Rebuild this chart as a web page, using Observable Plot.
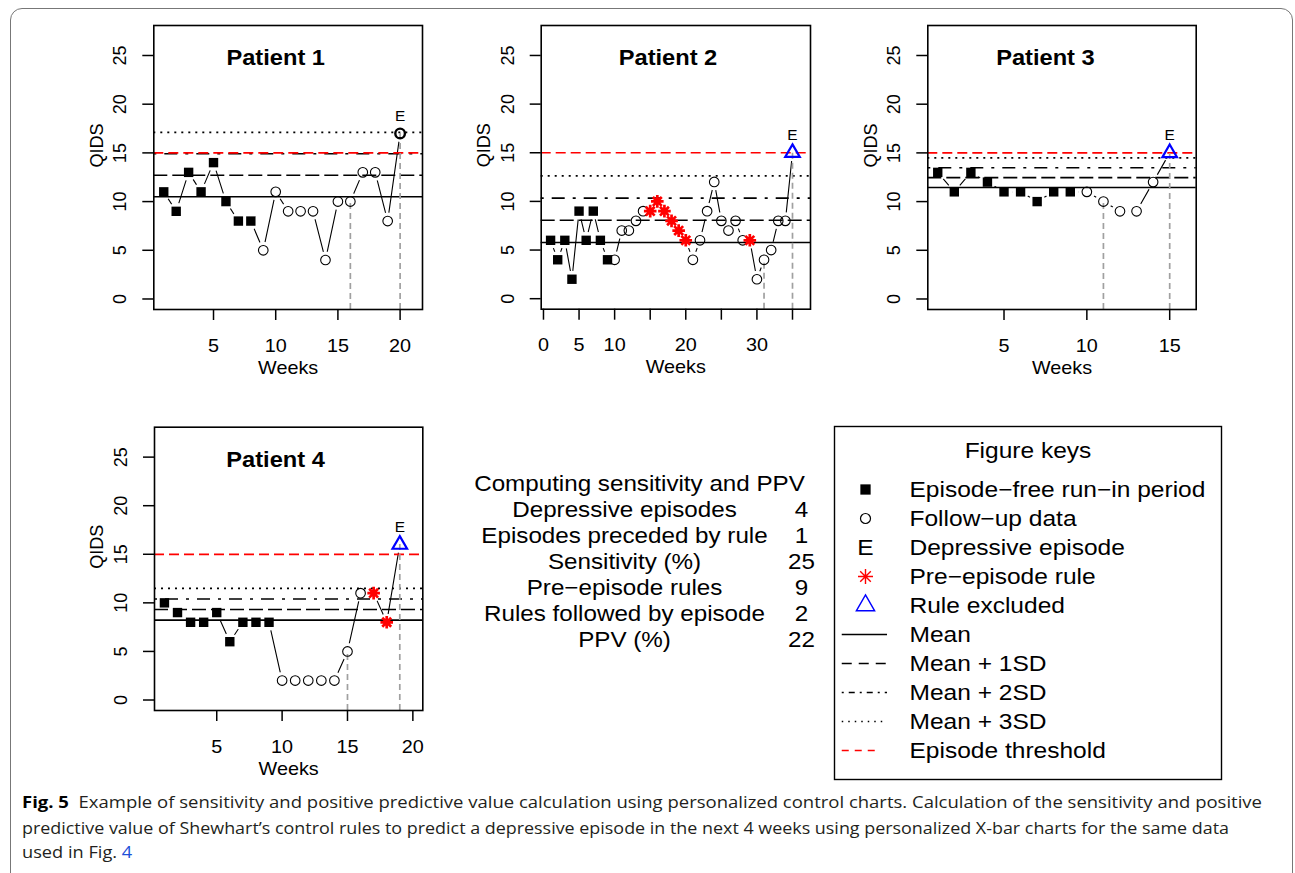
<!DOCTYPE html>
<html><head><meta charset="utf-8">
<script src="https://cdn.jsdelivr.net/npm/d3@7"></script>
<script src="https://cdn.jsdelivr.net/npm/@observablehq/plot@0.6"></script>
<style>
body{margin:0;background:#fff;}
#root{position:relative;width:1295px;height:873px;overflow:hidden;font-family:"Liberation Sans",Arial,sans-serif;background:#fff;}
#border{position:absolute;left:10px;top:8px;width:1283px;height:900px;border:1px solid #777;border-radius:12px;box-sizing:border-box;}
.pl{position:absolute;}
.cap{position:absolute;left:22px;white-space:nowrap;font-family:"Open Sans",sans-serif;font-size:15.5px;color:#231f20;transform-origin:0 50%;line-height:20px;}
.cap b{font-weight:700;color:#000;}
.cap .lnk{color:#1d4fd8;}
</style></head><body>
<div id="root"><div id="border"></div>
<div class="cap" id="cap1" style="top:792px"><b>Fig. 5</b>&nbsp; Example of sensitivity and positive predictive value calculation using personalized control charts. Calculation of the sensitivity and positive</div>
<div class="cap" id="cap2" style="top:818px">predictive value of Shewhart’s control rules to predict a depressive episode in the next 4 weeks using personalized X-bar charts for the same data</div>
<div class="cap" id="cap3" style="top:842px">used in Fig. <span class="lnk">4</span></div>
</div>
<script>
// ---------------- data ----------------
const weeksP1 = [1,2,3,4,5,6,7,8,9,10,11,12,13,14,15,16,17,18,19,20];
const qidsP1  = [11,9,13,11,14,10,8,8,5,11,9,9,9,4,10,10,13,13,8,17];
const weeksP2 = [1,2,3,4,5,6,7,8,9,10,11,12,13,14,15,16,17,18,19,20,21,22,23,24,25,26,27,28,29,30,31,32,33,34,35];
const qidsP2  = [6,4,6,2,9,6,9,6,4,4,7,7,8,9,9,10,9,8,7,6,4,6,9,12,8,7,8,6,6,2,4,5,8,8,15];
const weeksP3 = [1,2,3,4,5,6,7,8,9,10,11,12,13,14,15];
const qidsP3  = [13,11,13,12,11,11,10,11,11,11,10,9,9,12,15];
const weeksP4 = [1,2,3,4,5,6,7,8,9,10,11,12,13,14,15,16,17,18,19];
const qidsP4  = [10,9,8,8,9,6,8,8,8,2,2,2,2,2,5,11,11,8,16];

const patientTitles = ["Patient 1","Patient 2","Patient 3","Patient 4"];
const runInEnd      = [8, 9, 9, 9];
const ruleWeeks     = [[], [15,16,17,18,19,20,29], [], [17,18]];
const episodeWeek   = [20, 35, 15, 19];
const windowStart   = [16, 31, 11, 15];
const ruleExcluded  = [false, true, true, true];
const meanLine      = [10.5, 5.78, 11.44, 8.22];
const sd1Line       = [12.70, 8.06, 12.46, 9.31];
const sd2Line       = [14.91, 10.34, 13.47, 10.40];
const sd3Line       = [17.11, 12.62, 14.49, 11.49];
const episodeThreshold = 15;

const yTicks = [0,5,10,15,20,25];
const xTicksP = [[5,10,15,20],[0,5,10,15,20,25,30,35],[5,10,15],[5,10,15,20]];
const xLabelsP = [[5,10,15,20],[0,5,10,20,30],[5,10,15],[5,10,15,20]];

const summaryTitle = "Computing sensitivity and PPV";
const summaryLabels = ["Depressive episodes","Episodes preceded by rule","Sensitivity (%)","Pre\u2212episode rules","Rules followed by episode","PPV (%)"];
const summaryValues = [4, 1, 25, 9, 2, 22];

const legendTitle = "Figure keys";
const legendLabels = ["Episode\u2212free run\u2212in period","Follow\u2212up data","Depressive episode","Pre\u2212episode rule","Rule excluded","Mean","Mean + 1SD","Mean + 2SD","Mean + 3SD","Episode threshold"];

// ---------------- styling / layout ----------------
const SX = 1.1;
const FONT = "'Liberation Sans', Arial, Helvetica, sans-serif";
const yDomain = [-1.08, 28.08];
const dashSD1 = "14,5", dashSD2 = "3,8,13,8", dashSD3 = "2,5", dashThr = "10,5";

const asterisk8 = {
  draw(ctx, size) {
    const r = Math.sqrt(size / Math.PI), d = r * Math.SQRT1_2;
    ctx.moveTo(-r, 0); ctx.lineTo(r, 0);
    ctx.moveTo(0, -r); ctx.lineTo(0, r);
    ctx.moveTo(-d, -d); ctx.lineTo(d, d);
    ctx.moveTo(-d, d); ctx.lineTo(d, -d);
  }
};

function stretch(svg, s) {
  svg.querySelectorAll("text").forEach(t => {
    const tr = t.getAttribute("transform") || "";
    if (tr.includes("rotate")) return;
    let x = parseFloat(t.getAttribute("x"));
    if (!isFinite(x)) x = 0;
    t.setAttribute("transform", `${tr} translate(${x},0) scale(${s},1) translate(${-x},0)`);
  });
}

const root = document.getElementById("root");
function place(svg, left, top) {
  svg.classList.add("pl");
  svg.style.left = left + "px";
  svg.style.top = top + "px";
  stretch(svg, SX);
  root.appendChild(svg);
}

const layouts = [
  {left: 60,  top: 0,   width: 380, height: 390, box: [153.3, 422, 25, 309],    xDomain: [0.2, 21.8]},
  {left: 450, top: 0,   width: 380, height: 390, box: [540.7, 810, 25, 308.7],  xDomain: [-0.32, 37.53]},
  {left: 830, top: 0,   width: 390, height: 390, box: [927.3, 1195.7, 25, 309], xDomain: [0.4, 16.6]},
  {left: 60,  top: 400, width: 380, height: 390, box: [154, 422.3, 426.7, 710], xDomain: [0.24, 20.76]}
];
const weeksAll = [weeksP1, weeksP2, weeksP3, weeksP4];
const qidsAll = [qidsP1, qidsP2, qidsP3, qidsP4];

for (let p = 0; p < 4; p++) {
  const L = layouts[p];
  const data = weeksAll[p].map((w, i) => ({week: w, qids: qidsAll[p][i]}));
  const ep = episodeWeek[p];
  const runIn = data.filter(d => d.week <= runInEnd[p]);
  const rules = data.filter(d => ruleWeeks[p].includes(d.week));
  const epData = data.filter(d => d.week === ep);
  const follow = data.filter(d => d.week > runInEnd[p] && !ruleWeeks[p].includes(d.week) && d.week !== ep);
  const win = data.filter(d => d.week === windowStart[p] || d.week === ep);
  const xLab = xLabelsP[p];

  const svg = Plot.plot({
    width: L.width, height: L.height,
    marginLeft: L.box[0] - L.left,
    marginRight: L.left + L.width - L.box[1],
    marginTop: L.box[2] - L.top,
    marginBottom: L.top + L.height - L.box[3],
    x: {domain: L.xDomain, label: null},
    y: {domain: yDomain, label: null},
    style: {fontFamily: FONT, fontSize: "18px", color: "black", background: "transparent", overflow: "visible"},
    marks: [
      Plot.line(data, {x: "week", y: "qids", stroke: "black", strokeWidth: 1.1}),
      Plot.dot(data, {x: "week", y: "qids", r: 8.5, fill: "white", stroke: "none"}),
      Plot.ruleY([meanLine[p]], {stroke: "black", strokeWidth: 1.6}),
      Plot.ruleY([sd1Line[p]], {stroke: "black", strokeWidth: 1.6, strokeDasharray: dashSD1}),
      Plot.ruleY([sd2Line[p]], {stroke: "black", strokeWidth: 1.6, strokeDasharray: dashSD2}),
      Plot.ruleY([sd3Line[p]], {stroke: "black", strokeWidth: 1.6, strokeDasharray: dashSD3}),
      Plot.ruleY([episodeThreshold], {stroke: "#ff0000", strokeWidth: 1.7, strokeDasharray: dashThr}),
      Plot.ruleX(win, {x: "week", y1: () => yDomain[0], y2: "qids", stroke: "#a0a0a0", strokeWidth: 1.7, strokeDasharray: "6,4"}),
      Plot.dot(runIn, {x: "week", y: "qids", symbol: "square", r: 5.3, fill: "black", stroke: "none"}),
      Plot.dot(follow, {x: "week", y: "qids", r: 4.8, fill: "none", stroke: "black", strokeWidth: 1.1}),
      Plot.dot(rules, {x: "week", y: "qids", symbol: asterisk8, r: 6.3, fill: "none", stroke: "#ff0000", strokeWidth: 2.7}),
      ruleExcluded[p]
        ? Plot.dot(epData, {x: "week", y: "qids", symbol: "triangle", r: 5.4, fill: "none", stroke: "#0000ff", strokeWidth: 2.2})
        : Plot.dot(epData, {x: "week", y: "qids", r: 4.8, fill: "none", stroke: "black", strokeWidth: 2.4}),
      Plot.text(epData, {x: "week", y: "qids", text: () => "E", dy: -17, fontSize: 14, lineAnchor: "middle"}),
      Plot.text([patientTitles[p]], {x: () => ep / 2, y: () => yTicks[yTicks.length - 1], dy: 3, text: d => d, fontSize: 21.5, fontWeight: "bold", lineAnchor: "middle"}),
      Plot.axisX(xTicksP[p], {tickSize: 11, strokeWidth: 1.5, tickFormat: () => "", label: null}),
      Plot.text(xTicksP[p].filter(d => xLab.includes(d)), {x: d => d, frameAnchor: "bottom", dy: 36.5, text: d => String(d), lineAnchor: "middle", fontSize: 18}),
      Plot.axisY(yTicks, {tickSize: 11, strokeWidth: 1.5, tickFormat: () => "", label: null}),
      Plot.text(yTicks, {y: d => d, frameAnchor: "left", dx: -33.3, rotate: -90, text: d => String(d), lineAnchor: "middle", textAnchor: "middle", fontSize: 18}),
      Plot.text(["QIDS"], {frameAnchor: "left", dx: -56.8, rotate: -90, text: d => d, lineAnchor: "middle", fontSize: 18}),
      Plot.text(["Weeks"], {frameAnchor: "bottom", dy: 58.5, text: d => d, lineAnchor: "middle", fontSize: 18}),
      Plot.frame({stroke: "black", strokeWidth: 1.6})
    ]
  });
  place(svg, L.left, L.top);
}

// ---------------- summary block ----------------
{
  const rows = [summaryTitle, ...summaryLabels];
  const left = 440, top = 455;
  const svg = Plot.plot({
    width: 400, height: 210, margin: 0,
    y: {type: "point", padding: 0, domain: rows, range: [481.7 - top, 640.5 - top], axis: null},
    style: {fontFamily: FONT, fontSize: "22px", color: "black", background: "transparent", overflow: "visible"},
    marks: [
      Plot.text([summaryTitle], {y: d => d, frameAnchor: "left", dx: 199, text: d => d, textAnchor: "middle", lineAnchor: "middle"}),
      Plot.text(summaryLabels, {y: d => d, frameAnchor: "left", dx: 184, text: d => d, textAnchor: "middle", lineAnchor: "middle"}),
      Plot.text(summaryLabels.map((l, i) => ({label: l, value: summaryValues[i]})), {y: "label", frameAnchor: "left", dx: 361, text: d => String(d.value), textAnchor: "middle", lineAnchor: "middle"})
    ]
  });
  place(svg, left, top);
}

// ---------------- legend ----------------
{
  const left = 834, top = 426;
  const lineStyles = [
    {label: legendLabels[5], stroke: "black", dash: null},
    {label: legendLabels[6], stroke: "black", dash: "10,7"},
    {label: legendLabels[7], stroke: "black", dash: "2,5,6,5"},
    {label: legendLabels[8], stroke: "black", dash: "1.5,5"},
    {label: legendLabels[9], stroke: "#ff0000", dash: "7,6"}
  ];
  const svg = Plot.plot({
    width: 387, height: 353, margin: 0,
    x: {domain: [0, 1], axis: null},
    y: {type: "point", padding: 0, domain: legendLabels, range: [487 - top, 752 - top], axis: null},
    style: {fontFamily: FONT, fontSize: "22.3px", color: "black", background: "white", overflow: "visible"},
    marks: [
      Plot.frame({stroke: "black", strokeWidth: 1.4}),
      Plot.text([legendTitle], {frameAnchor: "top", dy: 24, text: d => d, lineAnchor: "middle"}),
      Plot.dot([legendLabels[0]], {y: d => d, frameAnchor: "left", dx: 31, symbol: "square", r: 5.8, fill: "black", stroke: "none"}),
      Plot.dot([legendLabels[1]], {y: d => d, frameAnchor: "left", dx: 31, r: 5, fill: "none", stroke: "black", strokeWidth: 1.2}),
      Plot.text([legendLabels[2]], {y: d => d, frameAnchor: "left", dx: 31, text: () => "E", textAnchor: "middle", lineAnchor: "middle"}),
      Plot.dot([legendLabels[3]], {y: d => d, frameAnchor: "left", dx: 31, symbol: asterisk8, r: 7.5, fill: "none", stroke: "#ff0000", strokeWidth: 1.4}),
      Plot.dot([legendLabels[4]], {y: d => d, frameAnchor: "left", dx: 31, symbol: "triangle", r: 6.8, fill: "none", stroke: "#0000ff", strokeWidth: 1.4}),
      ...lineStyles.map(s => Plot.ruleY([s.label], {y: d => d, x1: () => 0.02, x2: () => s.stroke === "black" ? 0.137 : 0.113, stroke: s.stroke, strokeWidth: 1.3, strokeDasharray: s.dash})),
      Plot.text(legendLabels, {y: d => d, frameAnchor: "left", dx: 75, text: d => d, textAnchor: "start", lineAnchor: "middle"})
    ]
  });
  place(svg, left, top);
}

// ---------------- caption fit ----------------
function fit(id, target) {
  const el = document.getElementById(id);
  const w = el.getBoundingClientRect().width;
  const s = target / w;
  el.style.transform = `scaleX(${s})`;
  return s;
}
const s1 = fit("cap1", 1240);
const s2 = fit("cap2", 1207);
document.getElementById("cap3").style.transform = `scaleX(${(s1 + s2) / 2})`;
</script>
</body></html>
